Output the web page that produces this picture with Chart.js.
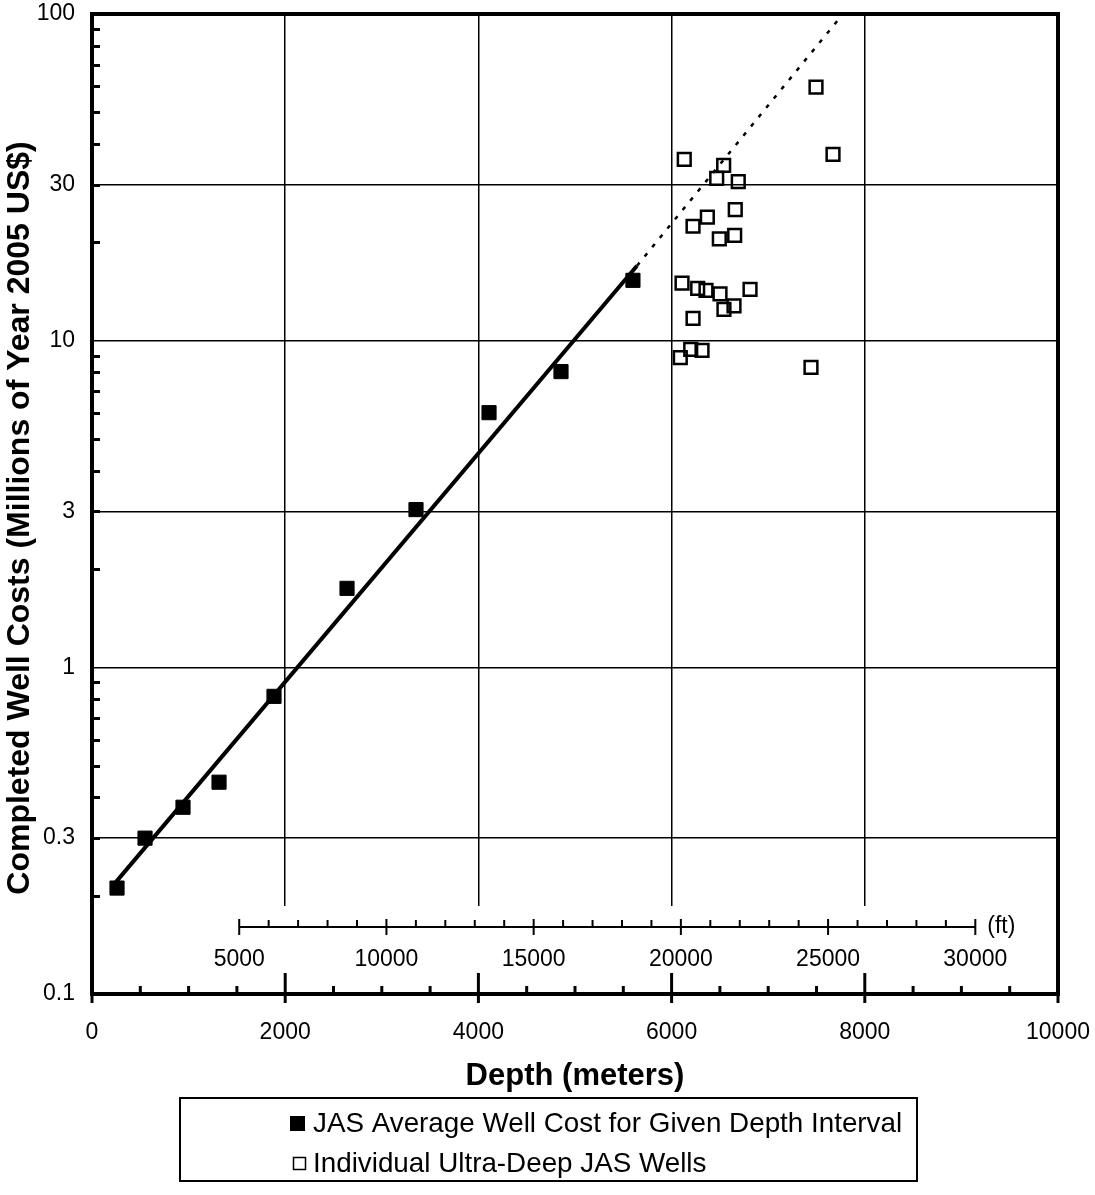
<!DOCTYPE html>
<html>
<head>
<meta charset="utf-8">
<title>Completed Well Costs vs Depth</title>
<script src="https://cdn.jsdelivr.net/npm/chart.js@4.4.0/dist/chart.umd.min.js"></script>
<style>
  html, body { margin: 0; padding: 0; background: #fff; }
  canvas { display: block; }
</style>
</head>
<body>
<canvas id="well-cost-chart" width="1095" height="1195"></canvas>
<script>
'use strict';

// JAS averages per depth interval (meters, millions of 2005 US$).
var avgDepth = [259, 549, 942, 1315, 1884, 2640, 3354, 4110, 4855, 5600];
var avgCost = [0.211, 0.300, 0.373, 0.445, 0.815, 1.745, 3.04, 6.02, 8.04, 15.3];

// Individual ultra-deep wells.
var wellDepth = [6131, 6539, 6467, 6690, 6659, 6370, 6222, 6653, 6494, 6108,
	6270, 6356, 6501, 6812, 6646, 6542, 6222, 6198, 6315, 6090,
	7495, 7671, 7443];
var wellCost = [35.9, 34.4, 31.4, 30.7, 25.2, 23.9, 22.4, 21.0, 20.5, 15.0,
	14.45, 14.25, 13.9, 14.35, 12.77, 12.46, 11.7, 9.4, 9.34, 8.87,
	59.7, 37.2, 8.29];

// Trend line (solid) and its extrapolation (dashed), end points.
var fitDepth = [238, 5642];
var fitCost = [0.2185, 16.96];
var extDepth = [5642, 7774];
var extCost = [16.96, 100];

// Axis ticks.
var yTickVals = [0.1, 0.3, 1, 3, 10, 30, 100];
var xMinorStep = 500;
var ftMajor = [5000, 10000, 15000, 20000, 25000, 30000];
var ftMinorStep = 1000;
var FT_TO_M = 0.3048;

var FONT = "'Liberation Sans', Arial, sans-serif";

function toPoints(xs, ys) {
	return xs.map(function (x, i) {
		return { x: x, y: ys[i] };
	});
}

// keep first/last tick labels from shrinking the plot area
function noLabelPadding(scale) {
	scale.paddingLeft = 0;
	scale.paddingRight = 0;
	scale.paddingTop = 0;
	scale.paddingBottom = 0;
}

var wellPlugin = {
	id: 'wellDecor',
	beforeDatasetsDraw: function (chart) {
		// blank band that holds the feet axis
		var a = chart.chartArea;
		var ctx = chart.ctx;
		ctx.save();
		ctx.fillStyle = '#fff';
		ctx.fillRect(a.left, 906, a.right - a.left, a.bottom - 906);
		ctx.restore();
	},
	afterDraw: function (chart) {
		var ctx = chart.ctx;
		var a = chart.chartArea;
		var xs = chart.scales.x;
		var ys = chart.scales.y;
		var i, k, px, py;

		ctx.save();
		ctx.strokeStyle = '#000';
		ctx.fillStyle = '#000';

		// frame
		ctx.lineWidth = 4;
		ctx.strokeRect(a.left, a.top, a.right - a.left, a.bottom - a.top);

		// y minor ticks (inside)
		ctx.lineWidth = 3;
		for (var d = 0.1; d < 100; d *= 10) {
			for (k = 2; k <= 9; k++) {
				py = Math.round(ys.getPixelForValue(k * d)) + 0.5;
				ctx.beginPath();
				ctx.moveTo(a.left, py);
				ctx.lineTo(a.left + 8, py);
				ctx.stroke();
			}
		}

		// x ticks
		for (var v = 0; v <= 10000; v += xMinorStep) {
			px = xs.getPixelForValue(v);
			var major = v % 2000 === 0;
			ctx.beginPath();
			ctx.moveTo(px, major ? a.bottom - 21 : a.bottom - 8);
			ctx.lineTo(px, major ? a.bottom + 9 : a.bottom + 1);
			ctx.stroke();
		}

		// feet axis
		var fy = 927;
		var f0 = xs.getPixelForValue(ftMajor[0] * FT_TO_M);
		var f1 = xs.getPixelForValue(ftMajor[ftMajor.length - 1] * FT_TO_M);
		ctx.lineWidth = 2;
		ctx.beginPath();
		ctx.moveTo(f0, fy);
		ctx.lineTo(f1, fy);
		ctx.stroke();
		for (var ft = ftMajor[0]; ft <= ftMajor[ftMajor.length - 1]; ft += ftMinorStep) {
			px = xs.getPixelForValue(ft * FT_TO_M);
			var isMajor = ftMajor.indexOf(ft) !== -1;
			ctx.beginPath();
			ctx.moveTo(px, isMajor ? fy - 8 : fy - 7);
			ctx.lineTo(px, isMajor ? fy + 8 : fy);
			ctx.stroke();
		}
		ctx.font = '23px ' + FONT;
		ctx.textAlign = 'center';
		ctx.textBaseline = 'middle';
		for (i = 0; i < ftMajor.length; i++) {
			ctx.fillText(String(ftMajor[i]), xs.getPixelForValue(ftMajor[i] * FT_TO_M), 960);
		}
		ctx.textAlign = 'left';
		ctx.fillText('(ft)', f1 + 12, fy);

		// y title
		ctx.save();
		ctx.translate(20, 518);
		ctx.rotate(-Math.PI / 2);
		ctx.font = 'bold 32px ' + FONT;
		ctx.textAlign = 'center';
		ctx.textBaseline = 'middle';
		ctx.fillText('Completed Well Costs (Millions of Year 2005 US$)', 0, 0);
		ctx.restore();

		// legend box
		ctx.lineWidth = 2;
		ctx.strokeRect(180, 1098, 737, 83);
		ctx.font = '27.8px ' + FONT;
		ctx.textAlign = 'left';
		ctx.textBaseline = 'middle';
		ctx.fillRect(290, 1116, 15, 15);
		ctx.fillText(chart.data.datasets[0].label, 313, 1124);
		ctx.lineWidth = 1.5;
		ctx.strokeRect(293.5, 1157.5, 12, 12);
		ctx.fillText(chart.data.datasets[1].label, 313, 1164);

		ctx.restore();
	}
};

var canvas = document.getElementById('well-cost-chart');

new Chart(canvas.getContext('2d'), {
	type: 'scatter',
	data: {
		datasets: [
			{
				label: 'JAS Average Well Cost for Given Depth Interval',
				data: toPoints(avgDepth, avgCost),
				pointStyle: 'rect',
				pointRadius: 10,
				backgroundColor: '#000',
				borderColor: '#000',
				borderWidth: 1
			},
			{
				label: 'Individual Ultra-Deep JAS Wells',
				data: toPoints(wellDepth, wellCost),
				pointStyle: 'rect',
				pointRadius: 9,
				backgroundColor: 'transparent',
				borderColor: '#000',
				borderWidth: 2.5
			},
			{
				label: 'Trend',
				data: toPoints(fitDepth, fitCost),
				showLine: true,
				borderColor: '#000',
				borderWidth: 4,
				pointRadius: 0
			},
			{
				label: 'Trend extrapolated',
				data: toPoints(extDepth, extCost),
				showLine: true,
				borderColor: '#000',
				borderWidth: 2.5,
				borderDash: [4, 8],
				pointRadius: 0
			}
		]
	},
	options: {
		responsive: false,
		animation: false,
		layout: {
			autoPadding: false,
			padding: { left: 0, right: 37, top: 14, bottom: 0 }
		},
		plugins: {
			legend: { display: false },
			tooltip: { enabled: false }
		},
		scales: {
			x: {
				type: 'linear',
				min: 0,
				max: 10000,
				afterFit: function (scale) {
					scale.height = 201;
					noLabelPadding(scale);
				},
				ticks: {
					stepSize: 2000,
					padding: 25,
					color: '#000',
					maxRotation: 0,
					autoSkip: false,
					font: { family: FONT, size: 23 },
					callback: function (v) {
						return String(v);
					}
				},
				grid: { color: '#000', lineWidth: 1.5, drawTicks: false },
				border: { display: false },
				title: {
					display: true,
					text: 'Depth (meters)',
					color: '#000',
					font: { family: FONT, size: 31, weight: 'bold' },
					padding: { top: 0, bottom: 100 }
				}
			},
			y: {
				type: 'logarithmic',
				min: 0.1,
				max: 100,
				afterFit: function (scale) {
					scale.width = 92;
					noLabelPadding(scale);
				},
				afterBuildTicks: function (scale) {
					scale.ticks = yTickVals.map(function (v) {
						return { value: v };
					});
				},
				ticks: {
					padding: 17,
					color: '#000',
					font: { family: FONT, size: 23 },
					callback: function (v) {
						return String(v);
					}
				},
				grid: { color: '#000', lineWidth: 1.5, drawTicks: false },
				border: { display: false }
			}
		}
	},
	plugins: [wellPlugin]
});
</script>
</body>
</html>
